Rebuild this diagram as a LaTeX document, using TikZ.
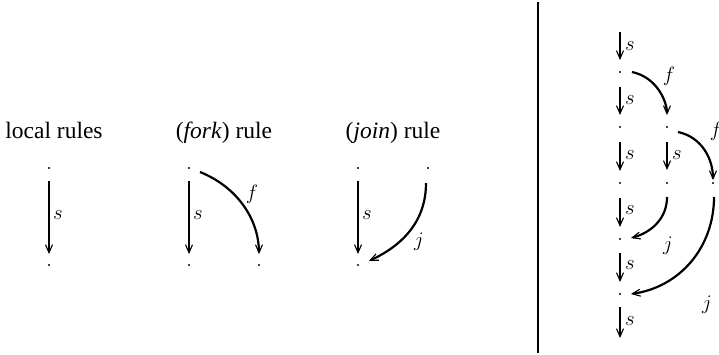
\documentclass[tikz,border=0pt]{standalone}
\usepackage{fontspec}
\setmainfont{Liberation Serif}
\usetikzlibrary{arrows.meta}
\begin{document}
\begin{tikzpicture}[x=1pt,y=-1pt,
  dot/.style={circle,fill,inner sep=0pt,minimum size=2.2pt},
  title/.style={font=\fontsize{23.5}{28}\selectfont,anchor=base,inner sep=0pt},
  lab/.style={font=\fontsize{20}{20}\selectfont,inner sep=0pt},
  tipv/.style={-{Straight Barb[length=8pt,width=7pt,line width=1.1pt]}},
  sarrow/.style={line width=1.4pt,tipv},
  bigs/.style={line width=2.6pt,tipv},
  arcline/.style={line width=2.2pt,tipv}]
\useasboundingbox (0,0) rectangle (719,354);
% titles
\node[title] (t1) at (54,138) {local rules};
\node[title] (t2) at (224,138) {(\textit{fork}) rule};
\node[title] (t3) at (393,138) {(\textit{join}) rule};
% local rule
\node[dot] (La) at (49,168) {};
\node[dot] (Lb) at (49,265) {};
\draw[sarrow,shorten <=13pt,shorten >=11pt] (La.center) -- (Lb.center);
\node[lab] (Ls) at (58,215) {$s$};
% fork rule
\node[dot] (Fa) at (189,168) {};
\node[dot] (Fb) at (189,265) {};
\node[dot] (Fc) at (259,265) {};
\draw[sarrow,shorten <=13pt,shorten >=11pt] (Fa.center) -- (Fb.center);
\node[lab] (Fs) at (198,215) {$s$};
\coordinate (Fst) at (200,172);
\draw[arcline,shorten >=11pt] (Fst) to[out=-22,in=90] (Fc.center);
\node[lab] (Ff) at (252,194) {$f$};
% join rule
\node[dot] (Ja) at (358,168) {};
\node[dot] (Jc) at (428,168) {};
\node[dot] (Jb) at (358,265) {};
\draw[sarrow,shorten <=13pt,shorten >=11pt] (Ja.center) -- (Jb.center);
\node[lab] (Js) at (367,215) {$s$};
\coordinate (Jst) at (426,183);
\coordinate (Jend) at (369,261);
\draw[arcline] (Jst) to[out=-90,in=25] (Jend);
\node[lab] (Jj) at (419,242) {$j$};
% separator
\coordinate (sepT) at (538,2);
\coordinate (sepB) at (538,353);
\draw[line width=2pt] (sepT) -- (sepB);
% right panel
\coordinate (r0) at (620,32);
\node[dot] (r1) at (620,72) {};
\node[dot] (r2) at (620,127) {};
\node[dot] (r3) at (620,183) {};
\node[dot] (r4) at (620,239) {};
\node[dot] (r5) at (620,294) {};
\coordinate (r6) at (620,338);
\draw[bigs,shorten >=12pt] (r0) -- (r1.center);
\draw[bigs,shorten <=15pt,shorten >=12pt] (r1.center) -- (r2.center);
\draw[bigs,shorten <=15pt,shorten >=12pt] (r2.center) -- (r3.center);
\draw[bigs,shorten <=15pt,shorten >=12pt] (r3.center) -- (r4.center);
\draw[bigs,shorten <=14pt,shorten >=12pt] (r4.center) -- (r5.center);
\draw[bigs,shorten <=13pt] (r5.center) -- (r6);
\node[lab] (rs1) at (630,46) {$s$};
\node[lab] (rs2) at (630,100) {$s$};
\node[lab] (rs3) at (630,155) {$s$};
\node[lab] (rs4) at (630,210) {$s$};
\node[lab] (rs5) at (630,265) {$s$};
\node[lab] (rs6) at (630,321) {$s$};
\node[dot] (q2) at (667,127) {};
\node[dot] (q3) at (667,183) {};
\draw[bigs,shorten <=15pt,shorten >=13pt] (q2.center) -- (q3.center);
\node[lab] (qs) at (677,155) {$s$};
\node[dot] (p3) at (713,183) {};
% fork arcs
\coordinate (f1s) at (632,72);
\draw[arcline,shorten >=12pt] (f1s) to[out=-12,in=90] (q2.center);
\node[lab] (f1l) at (669,76) {$f$};
\coordinate (f2s) at (678,132);
\draw[arcline,shorten >=3pt] (f2s) to[out=-12,in=90] (p3.center);
\node[lab] (f2l) at (716,131) {$f$};
% join arcs
\coordinate (j1s) at (667,197);
\coordinate (j1e) at (631,238);
\draw[arcline] (j1s) to[out=-90,in=15] (j1e);
\node[lab] (j1l) at (668,246) {$j$};
\coordinate (j2s) at (714,197);
\coordinate (j2e) at (631,294);
\draw[arcline] (j2s) to[out=-90,in=8] (j2e);
\node[lab] (j2l) at (707,305) {$j$};
\end{tikzpicture}
\end{document}
